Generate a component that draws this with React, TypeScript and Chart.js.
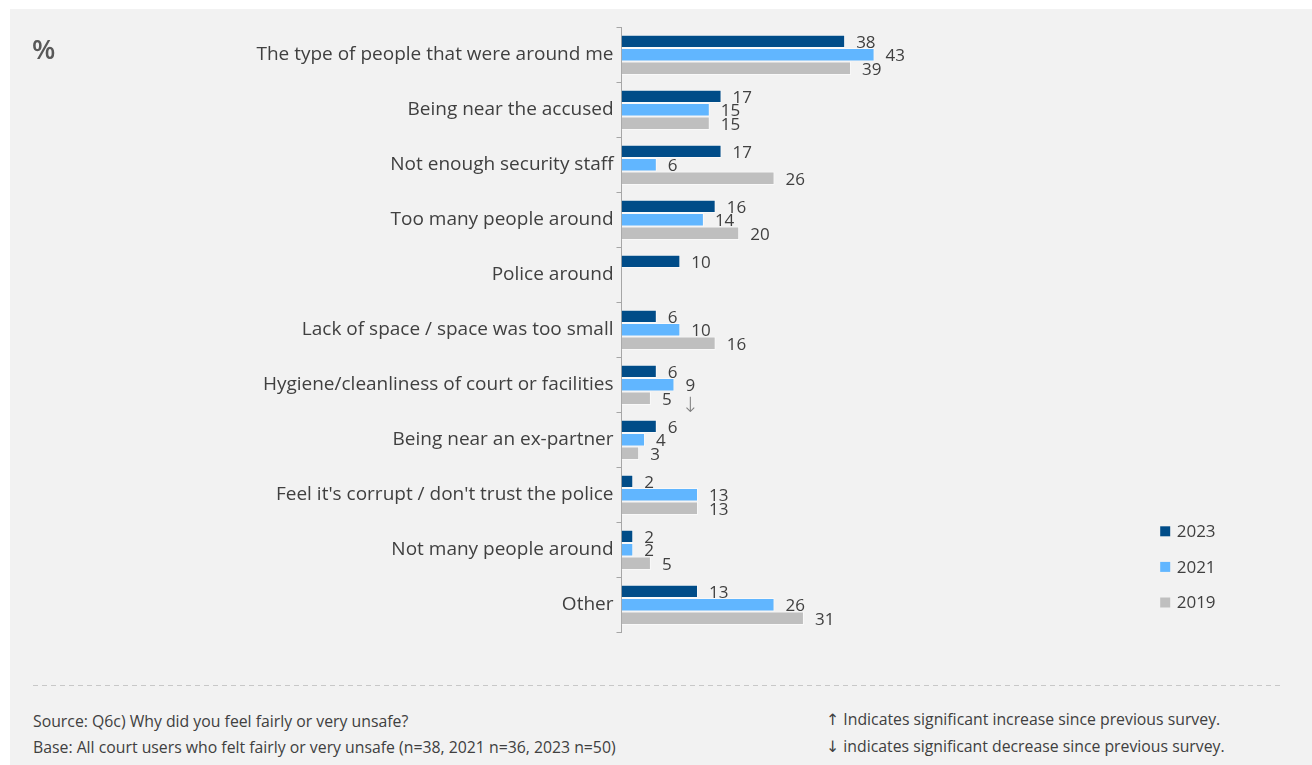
import React, { useEffect, useRef } from "react";
import { Chart, registerables } from "chart.js";

Chart.register(...registerables);

const categories = [
  "The type of people that were around me",
  "Being near the accused",
  "Not enough security staff",
  "Too many people around",
  "Police around",
  "Lack of space / space was too small",
  "Hygiene/cleanliness of court or facilities",
  "Being near an ex-partner",
  "Feel it's corrupt / don't trust the police",
  "Not many people around",
  "Other",
];
const seriesLabels = ["2023", "2021", "2019"];
const values2023 = [38, 17, 17, 16, 10, 6, 6, 6, 2, 2, 13];
const values2021 = [43, 15, 6, 14, null, 10, 9, 4, 13, 2, 26];
const values2019 = [39, 15, 26, 20, null, 16, 5, 3, 13, 5, 31];
const significance2021 = ["", "", "", "", "", "", "↓", "", "", "", ""];
const seriesColors = ["#004C88", "#61B6FF", "#BFBFBF"];
const xMax = 90;

const FONT = "'Open Sans', 'DejaVu Sans', sans-serif";
const TEXT = "#404040";

const valueLabelPlugin = {
  id: "valueLabels",
  afterDatasetsDraw(chart: any) {
    const ctx = chart.ctx;
    ctx.save();
    ctx.font = `17px ${FONT}`;
    ctx.fillStyle = TEXT;
    ctx.textBaseline = "middle";
    ctx.textAlign = "left";
    chart.data.datasets.forEach((ds: any, i: number) => {
      const meta = chart.getDatasetMeta(i);
      meta.data.forEach((el: any, j: number) => {
        const v = ds.data[j];
        if (v == null || !isFinite(el.x)) return;
        ctx.fillText(String(v), el.x + 11, el.y + 1.5);
      });
    });
    // significance markers (2021 series)
    const meta21 = chart.getDatasetMeta(1);
    ctx.fillStyle = "#808080";
    ctx.font = `300 21px 'DejaVu Sans', sans-serif`;
    ctx.textAlign = "center";
    meta21.data.forEach((el: any, j: number) => {
      const m = significance2021[j];
      if (!m || !isFinite(el.x)) return;
      ctx.fillText(m, el.x + 16, el.y + 22);
    });
    ctx.restore();
  },
};

const legendPlugin = {
  id: "sideLegend",
  afterDraw(chart: any) {
    const ctx = chart.ctx;
    const { right, bottom } = chart.chartArea;
    ctx.save();
    ctx.font = `17px ${FONT}`;
    ctx.textBaseline = "middle";
    ctx.textAlign = "left";
    chart.data.datasets.forEach((ds: any, i: number) => {
      const y = bottom - 101 + 35.6 * i;
      const x = right + 9;
      ctx.fillStyle = ds.backgroundColor;
      ctx.fillRect(x, y - 5, 10, 10);
      ctx.fillStyle = TEXT;
      ctx.fillText(ds.label, x + 16.5, y + 1);
    });
    ctx.restore();
  },
};

function BarChart() {
  const ref = useRef<HTMLCanvasElement | null>(null);
  useEffect(() => {
    if (!ref.current) return;
    const seriesValues = [values2023, values2021, values2019];
    const chart = new Chart(ref.current, {
      type: "bar",
      data: {
        labels: categories,
        datasets: seriesLabels.map((label, i) => ({
          label,
          data: seriesValues[i] as any,
          backgroundColor: seriesColors[i],
          borderColor: "rgba(255,255,255,0.55)",
          borderWidth: 1,
          barPercentage: 1,
          categoryPercentage: 0.733,
        })),
      },
      options: {
        indexAxis: "y",
        responsive: true,
        maintainAspectRatio: false,
        animation: false,
        layout: { padding: { left: 0, right: 160.8, top: 18.3, bottom: 16.7 } },
        scales: {
          x: { display: false, min: 0, max: xMax },
          y: {
            grid: {
              display: true,
              drawOnChartArea: false,
              drawTicks: true,
              tickLength: 5,
              color: "#a6a6a6",
              offset: true,
            },
            border: { display: true, color: "#a6a6a6", width: 1 },
            ticks: {
              autoSkip: false,
              padding: 3,
              color: TEXT,
              font: { family: FONT, size: 19 },
            },
            afterFit: (s: any) => {
              s.width = 611.5;
            },
          },
        },
        plugins: {
          legend: { display: false },
          tooltip: { enabled: false },
        },
      },
      plugins: [valueLabelPlugin, legendPlugin],
    });
    return () => chart.destroy();
  }, []);
  return (
    <div style={{ position: "absolute", left: 0, top: 0, width: 1302, height: 640 }}>
      <canvas ref={ref} />
    </div>
  );
}

export default function App() {
  return (
    <div
      style={{
        position: "fixed",
        left: 10,
        top: 9,
        right: 0,
        bottom: 0,
        background: "#f2f2f2",
        fontFamily: FONT,
        color: TEXT,
        overflow: "hidden",
      }}
    >
      <BarChart />
      <div
        style={{
          position: "absolute",
          left: 22,
          top: 24,
          fontSize: 27,
          fontWeight: 600,
          color: "#595959",
          lineHeight: "32px",
        }}
      >
        %
      </div>
      <div
        style={{
          position: "absolute",
          left: 23,
          top: 676,
          width: 1248,
          height: 1,
          background:
            "repeating-linear-gradient(to right, #c8c8c8 0 5px, transparent 5px 9px)",
        }}
      />
      <div
        style={{
          position: "absolute",
          left: 23,
          top: 699,
          fontSize: 15.8,
          lineHeight: "26px",
          whiteSpace: "nowrap",
        }}
      >
        <div>Source: Q6c) Why did you feel fairly or very unsafe?</div>
        <div>Base: All court users who felt fairly or very unsafe (n=38, 2021 n=36, 2023 n=50)</div>
      </div>
      <div
        style={{
          position: "absolute",
          left: 816,
          top: 697,
          fontSize: 15.8,
          lineHeight: "27px",
          whiteSpace: "nowrap",
        }}
      >
        <div>↑ Indicates significant increase since previous survey.</div>
        <div>↓ indicates significant decrease since previous survey.</div>
      </div>
    </div>
  );
}
